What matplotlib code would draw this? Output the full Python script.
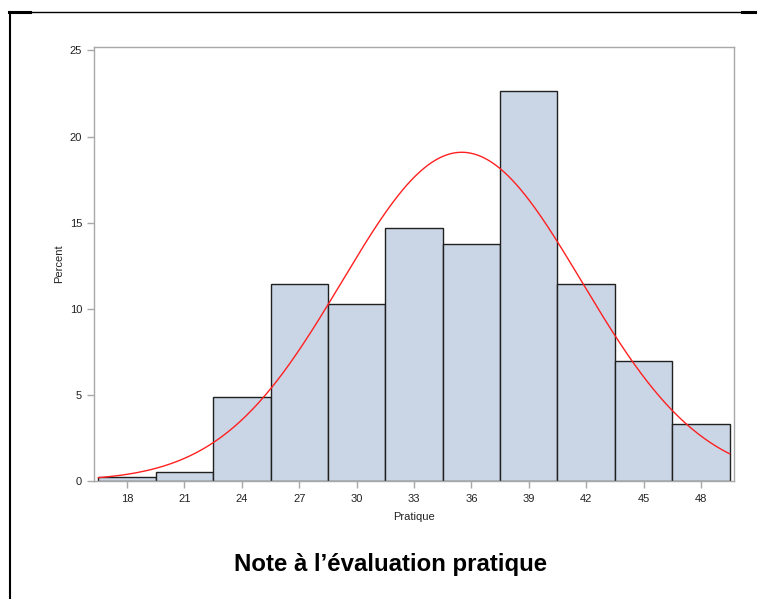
import numpy as np
import matplotlib.pyplot as plt
from matplotlib.lines import Line2D

# histogram data (percent per bin, bin midpoints)
midpoints = [18, 21, 24, 27, 30, 33, 36, 39, 42, 45, 48]
percent = [0.25, 0.5, 4.88, 11.44, 10.28, 14.69, 13.76, 22.65, 11.44, 6.97, 3.31]
bin_width = 3

# fitted normal curve parameters
mu = 35.5
sigma = 6.27

xticks = [18, 21, 24, 27, 30, 33, 36, 39, 42, 45, 48]
yticks = [0, 5, 10, 15, 20, 25]

plt.rcParams['font.family'] = ['Liberation Sans', 'DejaVu Sans']

fig = plt.figure(figsize=(7.57, 5.99), dpi=100)
ax = fig.add_axes([94/757, 1 - 481/599, 640/757, 434/599])

ax.bar(midpoints, percent, width=bin_width, color="#CAD5E5",
       edgecolor="#202020", linewidth=1.0, zorder=2)

xs = np.linspace(midpoints[0] - bin_width/2, midpoints[-1] + bin_width/2, 300)
ys = 100 * bin_width / (sigma * np.sqrt(2*np.pi)) * np.exp(-0.5*((xs - mu)/sigma)**2)
ax.plot(xs, ys, color="#FF2020", linewidth=1.0, zorder=3)

ax.set_xlim(16.27, 49.73)
ax.set_ylim(0, 25.2)
ax.set_xticks(xticks)
ax.set_yticks(yticks)
for s in ax.spines.values():
    s.set_color("#A8A8A8")
    s.set_linewidth(1.0)
ax.tick_params(colors="#A8A8A8", labelcolor="#222222", labelsize=8,
               length=5, width=1.0, direction="out")
ax.tick_params(axis="x", pad=4)
ax.set_xlabel("Pratique", fontsize=8, color="#222222", labelpad=6)
ax.set_ylabel("Percent", fontsize=8, color="#222222", labelpad=4)

fig.text(391/757, 1 - 565/599, "Note à l’évaluation pratique",
         ha="center", va="center", fontsize=17.3, fontweight="bold")

# page border lines
fig.add_artist(Line2D([9/757, 742/757], [1 - 12/599, 1 - 12/599], color="black", linewidth=1.0))
fig.add_artist(Line2D([9/757, 30/757], [1 - 12/599, 1 - 12/599], color="black", linewidth=2.2))
fig.add_artist(Line2D([742/757, 1.0], [1 - 12/599, 1 - 12/599], color="black", linewidth=2.2))
fig.add_artist(Line2D([9.5/757, 9.5/757], [0, 1 - 12/599], color="black", linewidth=1.5))

fig.savefig("out.png", dpi=100)
